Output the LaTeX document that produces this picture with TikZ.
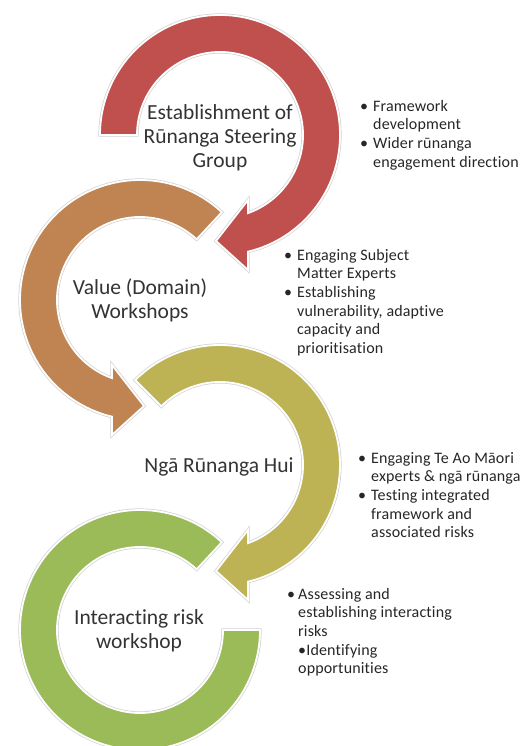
\documentclass[tikz,border=0pt]{standalone}
\usepackage{fontspec}
\setmainfont{Carlito}[Ligatures=NoCommon]
\definecolor{ringred}{HTML}{C0504D}
\definecolor{ringorange}{HTML}{BF8452}
\definecolor{ringolive}{HTML}{BEB354}
\definecolor{ringgreen}{HTML}{9BBB59}
\tikzset{
    ring/.style={draw=white, line width=1.8pt, preaction={draw=black!18, line width=3.2pt}},
    stage/.style={align=center, text=black!80, font=\fontsize{21.5}{24}\selectfont},
    notes/.style={align=left, anchor=north west, inner sep=0pt, text=black!85,
        font=\fontsize{16}{18.6}\selectfont\addfontfeatures{LetterSpace=1}}
}
\newcommand{\bul}{\llap{\textbullet\hspace{5pt}}}
% ring arrow: centre, colour, side (1 or -1), start angle, outer end, inner end
\newcommand{\ringarrow}[6]{%
    \begin{scope}[shift={(#1)}]
    \path[ring, fill=#2] (#4:120)
        arc[start angle=#4, end angle=#5, radius=120]
        -- (28*#3,-135) -- (-4*#3,-106) -- (28*#3,-65) -- (#6:83)
        arc[start angle=#6, end angle=#4, radius=83] -- cycle;
    \end{scope}}

\begin{document}
\begin{tikzpicture}[x=1pt, y=1pt]
    \useasboundingbox (0,0) rectangle (526,746);
    % Centres of the four circles
    \coordinate (redc) at (220,611);
    \coordinate (orangec) at (140,446);
    \coordinate (olivec) at (220,281);
    \coordinate (greenc) at (140,116);
    % Circular arrows
    \ringarrow{redc}{ringred}{1}{180}{-76.5}{-70.3}
    \ringarrow{orangec}{ringorange}{-1}{47}{256.5}{250.3}
    \ringarrow{olivec}{ringolive}{1}{135}{-76.5}{-70.3}
    % Last ring has no head
    \begin{scope}[shift={(greenc)}]
    \path[ring, fill=ringgreen] (47:120)
        arc[start angle=47, end angle=360, radius=120] -- (0:83)
        arc[start angle=360, end angle=47, radius=83] -- cycle;
    \end{scope}
    % Stage titles
    \node[stage] (est) at (220,608) {Establishment of\\Rūnanga Steering\\Group};
    \node[stage] (val) at (140,446) {Value (Domain)\\Workshops};
    \node[stage] (nga) at (219,279) {Ngā Rūnanga Hui};
    \node[stage] (inter) at (139,115) {Interacting risk\\workshop};
    % Notes beside each stage
    \node[notes] (estnotes) at (373,646) {\bul Framework\\development\\\bul Wider rūnanga\\engagement direction};
    \node[notes] (valnotes) at (297,497) {\bul Engaging Subject\\Matter Experts\\\bul Establishing\\vulnerability, adaptive\\capacity and\\prioritisation};
    \node[notes] (nganotes) at (371,294) {\bul Engaging Te Ao Māori\\experts \& ngā rūnanga\\\bul Testing integrated\\framework and\\associated risks};
    \node[notes] (internotes) at (298,158) {\llap{\textbullet\hspace{3pt}}Assessing and\\establishing interacting\\risks\\\textbullet Identifying\\opportunities};
\end{tikzpicture}
\end{document}
